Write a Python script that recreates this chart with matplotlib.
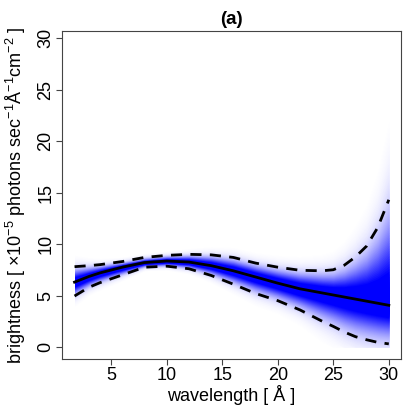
import matplotlib
matplotlib.use("Agg")
import matplotlib.pyplot as plt
import numpy as np

plt.rcParams['font.family'] = ['Liberation Sans', 'DejaVu Sans']
plt.rcParams['mathtext.fontset'] = 'custom'
plt.rcParams['mathtext.rm'] = 'Liberation Sans'
plt.rcParams['mathtext.it'] = 'Liberation Sans'

# values
wavelength = [1.7, 3, 4, 6, 8, 10, 12, 14, 16, 18, 20, 22, 24, 25, 26, 27, 28, 29, 30]
median = [6.3, 6.85, 7.2, 7.75, 8.2, 8.35, 8.25, 7.9, 7.4, 6.8, 6.2,
          5.65, 5.25, 5.05, 4.85, 4.65, 4.45, 4.25, 4.05]
upper = [7.8, 7.9, 8.0, 8.3, 8.7, 8.9, 9.0, 8.95, 8.7, 8.15, 7.75,
         7.45, 7.4, 7.5, 7.95, 8.75, 9.8, 11.6, 14.3]
lower = [4.95, 5.8, 6.25, 7.0, 7.75, 7.85, 7.6, 6.95, 6.1, 5.2, 4.5,
         3.6, 2.5, 2.0, 1.45, 1.0, 0.7, 0.45, 0.3]

x = np.array(wavelength)
med = np.array(median)
s_up = (np.array(upper) - med) / 1.96
s_lo = (med - np.array(lower)) / 1.96

fig = plt.figure(figsize=(4.07, 4.07), dpi=100)
ax = fig.add_axes([0.1523, 0.1179, 0.833, 0.806])

# shaded band: stack of bands from faint (outside) to full blue (centre)
zs = np.linspace(3.4, 0.05, 70)
for z in zs:
    t = 1.15 * np.exp(-z ** 2 / (2 * 0.98 ** 2)) + 0.08 * (1 - z / 3.4)
    t = min(1.0, t)
    col = (1 - t, 1 - t, 1.0)
    lo = np.clip(med - z * s_lo, 0.0, None)
    hi = med + z * s_up
    ax.fill_between(x, lo, hi, color=col, lw=0)

ax.plot(x, med, color='black', lw=2)
ax.plot(x, upper, color='black', lw=2, ls=(0, (4, 3)))
ax.plot(x, lower, color='black', lw=2, ls=(0, (4, 3)))

ax.set_xlim(0.57, 31.1)
ax.set_ylim(-1.17, 30.7)
ax.set_xticks([5, 10, 15, 20, 25, 30])
ax.set_yticks([0, 5, 10, 15, 20, 25, 30])
ax.set_yticklabels(['0', '5', '10', '15', '20', '25', '30'], rotation=90, va='center')
ax.tick_params(labelsize=13, length=4, color='#444444', pad=1.5)
for sp in ax.spines.values():
    sp.set_color('#444444')

ax.set_xlabel('wavelength [ Å ]', fontsize=13, labelpad=1)
ax.set_ylabel(r'brightness [ $\times10^{-5}$ photons sec$^{-1}$Å$^{-1}$cm$^{-2}$ ]',
              fontsize=13, labelpad=7)
ax.set_title('(a)', fontsize=13.5, fontweight='bold', pad=5)

fig.savefig('out.png', dpi=100)
